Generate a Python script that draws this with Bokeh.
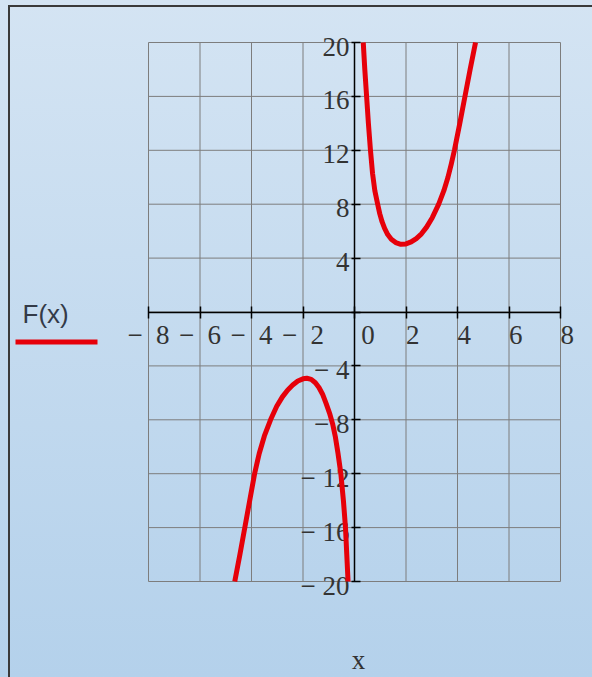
from bokeh.plotting import figure
from bokeh.models import (Range1d, LinearAxis, FixedTicker, Label, Arrow,
                          InlineStyleSheet)
from bokeh.embed import file_html
from bokeh.resources import INLINE

# ---- data ----
right_x = [0.34, 0.40, 0.47, 0.54, 0.62, 0.70, 0.79, 0.90, 0.98, 1.07, 1.17, 1.29,
           1.43, 1.60, 1.80, 2.00, 2.20, 2.40, 2.60, 2.80, 3.02, 3.27, 3.47,
           3.63, 3.76, 3.88, 4.09, 4.29, 4.49, 4.70]
right_y = [20, 18, 16, 14, 12, 10.3, 9.0, 8, 7.3, 6.7, 6.2, 5.75,
           5.4, 5.15, 5.02, 5.05, 5.2, 5.45, 5.8, 6.3, 7.0, 8, 9.0,
           10.0, 11.0, 12, 14, 16, 18, 20]
left_x = [-4.65, -4.45, -4.26, -4.07, -3.88, -3.70, -3.50, -3.26, -3.02, -2.80,
          -2.60, -2.40, -2.20, -2.00, -1.85, -1.68, -1.52, -1.38, -1.24, -1.10,
          -0.97, -0.85, -0.74, -0.64, -0.53, -0.43, -0.35, -0.30, -0.25]
left_y = [-20, -18, -16, -14, -12, -10.5, -9.2, -8, -7.0, -6.3,
          -5.8, -5.42, -5.12, -4.96, -4.92, -5.0, -5.25, -5.6, -6.1, -6.8,
          -7.5, -8.3, -9.3, -10.5, -12, -14, -16, -18, -20]

x_ticks = [-8, -6, -4, -2, 0, 2, 4, 6, 8]
x_tick_labels = ["\u2212\u20028", "\u2212\u20026", "\u2212\u20024", "\u2212\u20022",
                 "\u2007\u20070", "\u20072", "\u20074", "\u20076", "\u20078"]
y_ticks = [-20, -16, -12, -8, -4, 0, 4, 8, 12, 16, 20]
y_tick_labels = ["\u2212\u00a020", "\u2212\u00a016", "\u2212\u00a012", "\u2212\u00a08",
                 "\u2212\u00a04", "", "4", "8", "12", "16", "20"]
series_name = "F(x)"
x_title = "x"

# ---- layout (pixel positions of the plot box inside the 592x677 canvas) ----
W, H = 592, 677
BOX_L, BOX_R, BOX_T, BOX_B = 148, 560, 42, 581
XMIN, XMAX, YMIN, YMAX = -8, 8, -20, 20
sx = (BOX_R - BOX_L) / (XMAX - XMIN)
sy = (BOX_B - BOX_T) / (YMAX - YMIN)
def dx(px):
    return XMIN + (px - BOX_L) / sx
def dy(py):
    return YMAX - (py - BOX_T) / sy
LABEL_DROP = 4 / sy   # y tick labels sit ~4px below their ticks

RED = "#e6000a"
GRID = "#7d7d7d"
TXT = "#333333"
SERIF = "Liberation Serif"

p = figure(width=W, height=H, output_backend="svg", toolbar_location=None,
           x_range=Range1d(dx(0), dx(W)), y_range=Range1d(dy(H), dy(0)),
           x_axis_type=None, y_axis_type=None,
           min_border_left=0, min_border_right=0,
           min_border_top=0, min_border_bottom=0)
p.extra_y_ranges = {"ylab": Range1d(dy(H) + LABEL_DROP, dy(0) + LABEL_DROP)}
p.border_fill_color = None
p.background_fill_color = None
p.outline_line_color = None
p.grid.visible = False
p.stylesheets = [InlineStyleSheet(css=(
    ":host { background:"
    " linear-gradient(#3a3a3a, #3a3a3a) 8px 5px / 2px 100% no-repeat,"
    " linear-gradient(#3a3a3a, #3a3a3a) 8px 5px / 100% 2px no-repeat,"
    " linear-gradient(to bottom, #d4e4f3, #b4d1eb); }"))]

# grid lines (drawn from the tick arrays, inside the plot box)
g1 = p.segment(x0=x_ticks, y0=[YMIN] * len(x_ticks), x1=x_ticks, y1=[YMAX] * len(x_ticks),
               line_color=GRID, line_width=1)
g2 = p.segment(x0=[XMIN] * len(y_ticks), y0=y_ticks, x1=[XMAX] * len(y_ticks), y1=y_ticks,
               line_color=GRID, line_width=1)
g1.level = "image"
g2.level = "image"

xt = FixedTicker(ticks=x_ticks)
yt = FixedTicker(ticks=y_ticks)
xaxis = LinearAxis(ticker=xt, fixed_location=0, bounds=(XMIN, XMAX))
xaxis.major_label_overrides = dict(zip(x_ticks, x_tick_labels))
yaxis = LinearAxis(ticker=yt, fixed_location=0, bounds=(YMIN, YMAX))
yaxis.major_label_overrides = {t: "" for t in y_ticks}
ylab = LinearAxis(ticker=yt, fixed_location=0, y_range_name="ylab")
ylab.major_label_overrides = dict(zip(y_ticks, y_tick_labels))
ylab.axis_line_color = None
ylab.major_tick_line_color = None
for ax in (xaxis, yaxis, ylab):
    ax.minor_tick_line_color = None
    ax.major_label_text_font = SERIF
    ax.major_label_text_font_size = "27px"
    ax.major_label_text_color = TXT
    ax.level = "underlay"
for ax in (xaxis, yaxis):
    ax.axis_line_color = "black"
    ax.axis_line_width = 1.5
    ax.major_tick_line_color = "black"
    ax.major_tick_line_width = 1.5
xaxis.major_tick_in = 6
xaxis.major_tick_out = 6
xaxis.major_label_standoff = 2
for ax in (yaxis, ylab):
    ax.major_tick_in = 6
    ax.major_tick_out = 3
    ax.major_label_standoff = 2
p.add_layout(xaxis, "below")
p.add_layout(yaxis, "left")
p.add_layout(ylab, "left")

p.line(right_x, right_y, line_color=RED, line_width=5, line_join="round")
p.line(left_x, left_y, line_color=RED, line_width=5, line_join="round")

p.add_layout(Label(x=dx(358), y=dy(659), text=x_title, text_font=SERIF,
                   text_font_size="27px", text_color=TXT,
                   text_align="center", text_baseline="middle"))
p.add_layout(Label(x=dx(22), y=dy(313), text=series_name, text_font="Liberation Sans",
                   text_font_size="26px", text_color="#333a48",
                   text_align="left", text_baseline="middle"))
p.add_layout(Arrow(x_start=dx(15), y_start=dy(341.5), x_end=dx(97), y_end=dy(341.5),
                   end=None, line_color=RED, line_width=5))

open("out.html", "w").write(file_html(p, INLINE))
